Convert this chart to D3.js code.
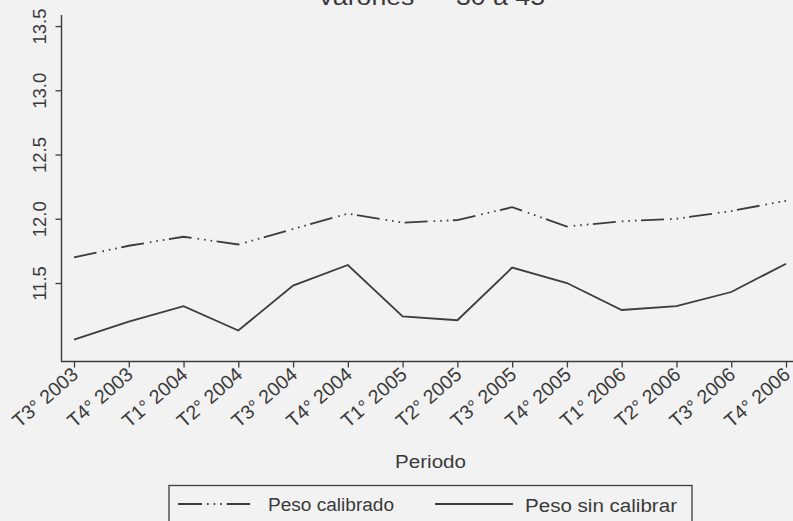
<!DOCTYPE html>
<html>
<head>
<meta charset="utf-8">
<script src="https://cdn.jsdelivr.net/npm/d3@7/dist/d3.min.js"></script>
<style>
  html, body { margin: 0; padding: 0; background: #f2f2f2; }
  svg { display: block; }
  text { font-family: "Liberation Sans", Arial, Helvetica, sans-serif; fill: #3a3a3a; }
</style>
</head>
<body>
<svg id="chart" width="793" height="521"></svg>
<script>
const periods = ["T3° 2003","T4° 2003","T1° 2004","T2° 2004","T3° 2004","T4° 2004",
                 "T1° 2005","T2° 2005","T3° 2005","T4° 2005","T1° 2006","T2° 2006",
                 "T3° 2006","T4° 2006"];
const pesoCalibrado = [11.70,11.79,11.86,11.80,11.92,12.04,11.97,11.99,12.09,11.94,11.98,12.00,12.06,12.14];
const pesoSinCalibrar = [11.06,11.20,11.32,11.13,11.48,11.64,11.24,11.21,11.62,11.50,11.29,11.32,11.43,11.65];
const yTicks = [11.5, 12.0, 12.5, 13.0, 13.5];
const seriesNames = ["Peso calibrado", "Peso sin calibrar"];
const titleText = "Varones — 30 a 45";
const xTitle = "Periodo";

const svg = d3.select("#chart");
const ink = "#3c3c3c";
const dashCal = "23,6,1.6,5,1.6,5,1.6,4.5";

const x = d3.scalePoint().domain(periods).range([74, 786]);
const y = d3.scaleLinear().domain([10.893, 13.586]).range([361, 15]);

// Title (partly cut off at top, as in the reference)
svg.append("text")
  .attr("x", 317).attr("y", 5)
  .attr("font-size", 23)
  .attr("textLength", 228).attr("lengthAdjust", "spacingAndGlyphs")
  .text(titleText);

// Y axis
const yAxis = svg.append("g").attr("transform", "translate(61.5,0)")
  .call(d3.axisLeft(y).tickValues(yTicks).tickFormat(d3.format(".1f")).tickSize(6).tickSizeOuter(0));
yAxis.select(".domain").remove();
yAxis.selectAll(".tick line").attr("stroke", ink).attr("stroke-width", 1.3);
yAxis.selectAll(".tick text")
  .attr("x", null).attr("dy", null)
  .attr("transform", "translate(-16,0) rotate(-90)")
  .attr("text-anchor", "middle")
  .attr("font-size", 18.5)
  .attr("fill", "#3a3a3a");
svg.append("line").attr("x1", 61.5).attr("x2", 61.5).attr("y1", 15).attr("y2", 361.5)
  .attr("stroke", ink).attr("stroke-width", 1.4);

// X axis
const xAxis = svg.append("g").attr("transform", "translate(0,361.5)")
  .call(d3.axisBottom(x).tickSize(6).tickSizeOuter(0));
xAxis.select(".domain").remove();
xAxis.selectAll(".tick line").attr("stroke", ink).attr("stroke-width", 1.3);
xAxis.selectAll(".tick text")
  .attr("y", null).attr("dy", null)
  .attr("transform", "translate(5,15) rotate(-41)")
  .attr("text-anchor", "end")
  .attr("font-size", 19.5)
  .attr("fill", "#3a3a3a");
svg.append("line").attr("x1", 61).attr("x2", 793).attr("y1", 361.5).attr("y2", 361.5)
  .attr("stroke", ink).attr("stroke-width", 1.4);

// X title
svg.append("text").attr("x", 395).attr("y", 468)
  .attr("font-size", 18)
  .attr("textLength", 71).attr("lengthAdjust", "spacingAndGlyphs")
  .text(xTitle);

// Lines
const line = d3.line().x((d, i) => x(periods[i])).y(d => y(d));
svg.append("path").datum(pesoCalibrado)
  .attr("d", line).attr("fill", "none")
  .attr("stroke", ink).attr("stroke-width", 1.8)
  .attr("stroke-dasharray", dashCal);
svg.append("path").datum(pesoSinCalibrar)
  .attr("d", line).attr("fill", "none")
  .attr("stroke", ink).attr("stroke-width", 1.8);

// Legend
const lg = svg.append("g");
lg.append("rect").attr("x", 169).attr("y", 485.5).attr("width", 523).attr("height", 60)
  .attr("fill", "none").attr("stroke", ink).attr("stroke-width", 1.3);
lg.append("line").attr("x1", 178).attr("x2", 250).attr("y1", 504).attr("y2", 504)
  .attr("stroke", ink).attr("stroke-width", 1.8).attr("stroke-dasharray", "24,5,1.6,5,1.6,5,1.6,5,24");
lg.append("text").attr("x", 268).attr("y", 511).attr("font-size", 18)
  .attr("textLength", 126).attr("lengthAdjust", "spacingAndGlyphs")
  .text(seriesNames[0]);
lg.append("line").attr("x1", 435).attr("x2", 513).attr("y1", 504).attr("y2", 504)
  .attr("stroke", ink).attr("stroke-width", 1.8);
lg.append("text").attr("x", 525).attr("y", 512).attr("font-size", 18)
  .attr("textLength", 152).attr("lengthAdjust", "spacingAndGlyphs")
  .text(seriesNames[1]);
</script>
</body>
</html>
